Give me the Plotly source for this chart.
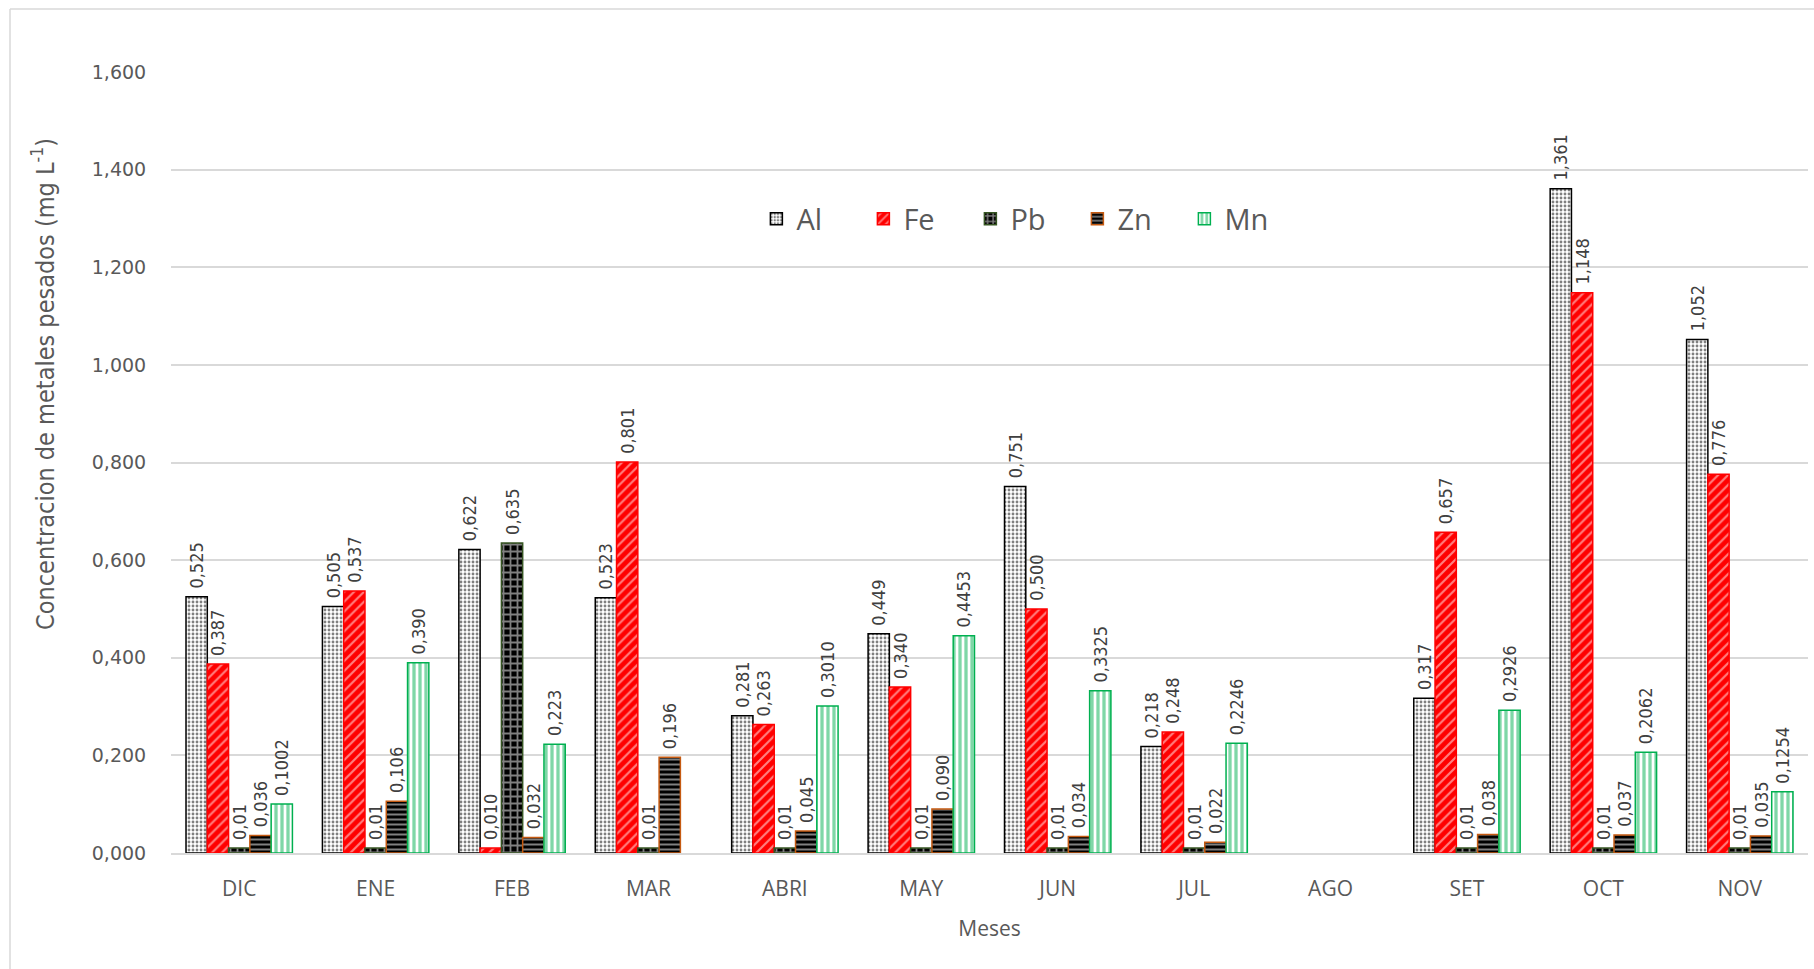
import plotly.graph_objects as go

# Months of the sampling campaign
meses = ["DIC", "ENE", "FEB", "MAR", "ABRI", "MAY", "JUN", "JUL", "AGO", "SET", "OCT", "NOV"]

# Measured concentrations (mg/L), written as reported (decimal comma); None = no sample
al = ["0,525", "0,505", "0,622", "0,523", "0,281", "0,449", "0,751", "0,218", None, "0,317", "1,361", "1,052"]
fe = ["0,387", "0,537", "0,010", "0,801", "0,263", "0,340", "0,500", "0,248", None, "0,657", "1,148", "0,776"]
pb = ["0,01", "0,01", "0,635", "0,01", "0,01", "0,01", "0,01", "0,01", None, "0,01", "0,01", "0,01"]
zn = ["0,036", "0,106", "0,032", "0,196", "0,045", "0,090", "0,034", "0,022", None, "0,038", "0,037", "0,035"]
mn = ["0,1002", "0,390", "0,223", None, "0,3010", "0,4453", "0,3325", "0,2246", None, "0,2926", "0,2062", "0,1254"]

y_ticks = [0, 0.2, 0.4, 0.6, 0.8, 1.0, 1.2, 1.4, 1.6]
y_tick_text = ["0,000", "0,200", "0,400", "0,600", "0,800", "1,000", "1,200", "1,400", "1,600"]

PAD = "\u00a0"  # small lift of the value labels above the bar tops


def points(vals):
    xs, ys, ts = [], [], []
    for m, v in zip(meses, vals):
        if v is None:
            continue
        xs.append(m)
        ys.append(float(v.replace(",", ".")))
        ts.append(PAD + v)
    return xs, ys, ts


series = [
    ("Al", al, dict(color="white", line=dict(color="black", width=1.5),
                    pattern=dict(shape=".", fgcolor="black", bgcolor="white", size=4, solidity=0.4))),
    ("Fe", fe, dict(color="red", line=dict(color="red", width=1.5),
                    pattern=dict(shape="/", fgcolor="white", bgcolor="red", size=7, solidity=0.3))),
    ("Pb", pb, dict(color="black", line=dict(color="#375623", width=1.5),
                    pattern=dict(shape="+", fgcolor="white", bgcolor="black", size=7, solidity=0.45))),
    ("Zn", zn, dict(color="black", line=dict(color="#C55A11", width=1.5),
                    pattern=dict(shape="-", fgcolor="white", bgcolor="black", size=5, solidity=0.4))),
    ("Mn", mn, dict(color="white", line=dict(color="#00B050", width=1.5),
                    pattern=dict(shape="|", fgcolor="#00B050", bgcolor="white", size=6, solidity=0.55))),
]

fig = go.Figure()
for name, vals, marker in series:
    xs, ys, ts = points(vals)
    fig.add_trace(go.Bar(
        name=name,
        x=xs,
        y=ys,
        text=ts,
        textposition="outside",
        textangle=-90,
        constraintext="none",
        cliponaxis=False,
        textfont=dict(family="DejaVu Sans Condensed", size=18, color="#404040"),
        marker=marker,
    ))

L, T, R, B = 171, 72, 6, 116
W, H = 1814, 969
pw, ph = W - L - R, H - T - B

fig.update_layout(
    width=W, height=H,
    margin=dict(l=L, r=R, t=T, b=B),
    paper_bgcolor="white",
    plot_bgcolor="white",
    barmode="group",
    bargap=0.22,
    bargroupgap=0,
    font=dict(family="Open Sans", color="#595959"),
    legend=dict(
        orientation="h",
        x=0.521, y=0.812, xanchor="center", yanchor="middle",
        font=dict(family="Open Sans", size=29, color="#595959"),
        entrywidth=62,
        bgcolor="rgba(0,0,0,0)",
    ),
    xaxis=dict(
        categoryorder="array", categoryarray=meses,
        title=dict(text="Meses", font=dict(family="Open Sans", size=21, color="#595959"), standoff=20),
        tickfont=dict(family="Open Sans", size=21, color="#595959"),
        showline=True, linecolor="#D9D9D9", linewidth=2,
        ticks="outside", ticklen=16, tickcolor="rgba(0,0,0,0)",
    ),
    yaxis=dict(
        range=[0, 1.6],
        tickvals=y_ticks,
        ticktext=y_tick_text,
        tickfont=dict(family="DejaVu Sans", size=19, color="#595959"),
        gridcolor="#D9D9D9", gridwidth=2,
        zeroline=False,
        ticks="outside", ticklen=20, tickcolor="rgba(0,0,0,0)",
    ),
    annotations=[
        dict(text="Concentracion de metales pesados (mg L<sup>-1</sup>)",
             xref="paper", yref="paper", x=(43 - L) / pw, y=(H - B - 384) / ph,
             xanchor="center", yanchor="middle", textangle=-90, showarrow=False,
             font=dict(family="DejaVu Sans Condensed", size=25, color="#595959")),
    ],
    shapes=[
        dict(type="line", xref="paper", yref="paper",
             x0=(10 - L) / pw, x1=(10 - L) / pw,
             y0=-(B) / ph, y1=(H - B - 9) / ph,
             line=dict(color="#D9D9D9", width=1.5)),
        dict(type="line", xref="paper", yref="paper",
             x0=(10 - L) / pw, x1=(W - L) / pw,
             y0=(H - B - 9) / ph, y1=(H - B - 9) / ph,
             line=dict(color="#D9D9D9", width=1.5)),
    ],
)

fig.write_html("out.html")
